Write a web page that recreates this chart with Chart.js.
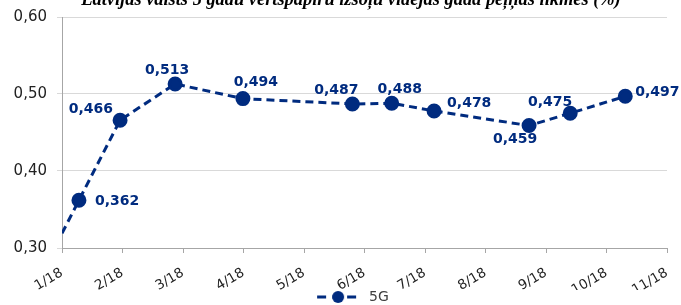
<!DOCTYPE html>
<html><head><meta charset="utf-8">
<script src="https://cdn.jsdelivr.net/npm/chart.js@4/dist/chart.umd.min.js"></script>
<style>html,body{margin:0;padding:0;background:#fff}#wrap{position:relative;width:681px;height:305px}</style>
</head><body><div id="wrap"><canvas id="c" width="681" height="305"></canvas></div>
<script>
const chartTitle = 'Latvijas valsts 5 gadu vērtspapīru izsoļu vidējās gada peļņas likmes (%)';
const seriesName = '5G';
const monthLabels = ['1/18','2/18','3/18','4/18','5/18','6/18','7/18','8/18','9/18','10/18','11/18'];
// x = months since start of 1/18 (auction dates), y = yield %
const auctionMonths = [0, 0.28, 0.96, 1.87, 2.99, 4.80, 5.45, 6.15, 7.72, 8.40, 9.31];
const yieldValues  = [0.319, 0.362, 0.466, 0.513, 0.494, 0.487, 0.488, 0.478, 0.459, 0.475, 0.497];
const showLabel    = [false, true, true, true, true, true, true, true, true, true, true];
const yTicks = [0.30, 0.40, 0.50, 0.60];

// label placement (style): [dx, dy, align]
const labelPlace = [null,[16,1,'left'],[-7,-11,'right'],[-8,-14,'center'],[13,-16,'center'],[-16,-14,'center'],[8,-14,'center'],[13,-8,'left'],[-14,14,'center'],[-20,-11,'center'],[10,-4,'left']];

const NAVY = '#002b7f';
const fmt = v => v.toFixed(3).replace('.', ',');

const legendImg = (() => {
  const c = document.createElement('canvas'); c.width = 84; c.height = 14;
  const x = c.getContext('2d');
  x.strokeStyle = NAVY; x.lineWidth = 3; x.setLineDash([9,6]);
  x.beginPath(); x.moveTo(39,7); x.lineTo(81,7); x.stroke();
  x.fillStyle = NAVY; x.beginPath(); x.arc(60,7,6,0,Math.PI*2); x.fill();
  return c;
})();

const titlePlugin = {
  id: 'cutTitle',
  afterDraw(chart) {
    const ctx = chart.ctx; ctx.save();
    ctx.font = 'italic bold 18.4px "Liberation Serif"';
    ctx.fillStyle = '#000'; ctx.textAlign = 'center'; ctx.textBaseline = 'alphabetic';
    ctx.fillText(chartTitle, 351, 5);
    ctx.restore();
  }
};
const labelPlugin = {
  id: 'pointLabels',
  afterDatasetsDraw(chart) {
    const ctx = chart.ctx; const meta = chart.getDatasetMeta(0);
    ctx.save();
    ctx.font = 'bold 14px "DejaVu Sans"'; ctx.fillStyle = NAVY; ctx.textBaseline = 'middle';
    meta.data.forEach((pt, i) => {
      if (!showLabel[i]) return;
      const p = labelPlace[i];
      ctx.textAlign = p[2];
      ctx.fillText(fmt(yieldValues[i]), pt.x + p[0], pt.y + p[1]);
    });
    ctx.restore();
  }
};

new Chart(document.getElementById('c'), {
  type: 'line',
  data: { datasets: [{
    label: seriesName,
    data: auctionMonths.map((m, i) => ({x: m, y: yieldValues[i]})),
    borderColor: NAVY, backgroundColor: NAVY, borderWidth: 3, borderDash: [8,5],
    pointRadius: showLabel.map(s => s ? 6 : 0), pointHoverRadius: 6,
    pointBackgroundColor: NAVY, pointBorderColor: NAVY, tension: 0, clip: 0
  }]},
  options: {
    responsive: false, animation: false,
    layout: { padding: { top: 17, right: 14, left: 0, bottom: -9 } },
    plugins: {
      title: { display: false }, tooltip: { enabled: false },
      legend: { position: 'bottom', labels: {
        usePointStyle: true, pointStyleWidth: 84, boxHeight: 14, padding: 0,
        color: '#404040', font: { family: 'DejaVu Sans', size: 14 },
        generateLabels: () => [{ text: seriesName, pointStyle: legendImg, fillStyle: NAVY, strokeStyle: NAVY, lineWidth: 0, fontColor: '#404040' }]
      }}
    },
    scales: {
      x: { type: 'linear', min: 0, max: monthLabels.length - 1,
        afterBuildTicks: s => { s.ticks = monthLabels.map((_, i) => ({ value: i })); },
        afterFit: s => { s.height = 42; s.paddingLeft = 0; s.paddingRight = 0; },
        ticks: { autoSkip: false, minRotation: 30, maxRotation: 30, padding: 12,
          color: '#222', font: { family: 'DejaVu Sans', size: 13.5 },
          callback: (v) => monthLabels[Math.round(v)] },
        grid: { drawOnChartArea: false, tickLength: 5, color: '#a6a6a6' },
        border: { color: '#a6a6a6', width: 1 }
      },
      y: { min: 0.30, max: 0.60,
        afterBuildTicks: s => { s.ticks = yTicks.map(v => ({ value: v })); },
        afterFit: s => { s.width = 62; s.paddingTop = 0; s.paddingBottom = 0; },
        ticks: { padding: 10, color: '#222', font: { family: 'DejaVu Sans', size: 15 },
          callback: v => v.toFixed(2).replace('.', ',') },
        grid: { color: '#d9d9d9', tickLength: 5, lineWidth: 1 },
        border: { color: '#a6a6a6', width: 1 }
      }
    }
  },
  plugins: [titlePlugin, labelPlugin]
});
</script></body></html>
